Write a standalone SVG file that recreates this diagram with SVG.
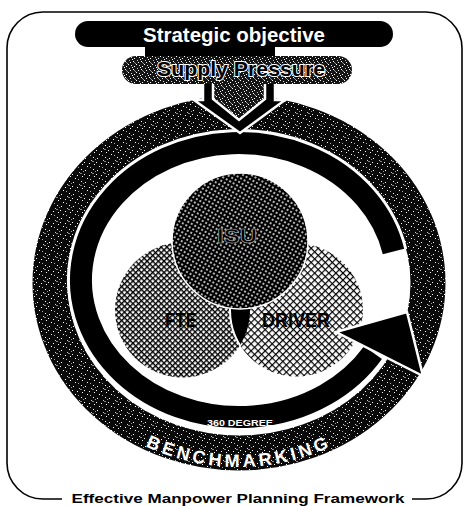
<svg xmlns="http://www.w3.org/2000/svg" width="466" height="506" viewBox="0 0 466 506">
<style>
  .t { font-family: "Liberation Sans", Arial, sans-serif; font-weight: bold; }
  .frame { fill: none; stroke: #000; stroke-width: 1.6; }
  .circ-text { fill: #000; font-size: 21px; text-anchor: middle; }
</style>
<defs>
  <pattern id="speck" width="12" height="12" patternUnits="userSpaceOnUse">
    <rect width="12" height="12" fill="#0a0a0a"/>
    <rect x="1" y="2" width="1" height="1" fill="#fff"/>
    <rect x="5" y="7" width="1" height="1" fill="#fff"/>
    <rect x="9" y="1" width="1" height="1" fill="#fff"/>
    <rect x="3" y="10" width="1" height="1" fill="#fff"/>
    <rect x="10" y="8" width="1" height="1" fill="#fff"/>
    <rect x="7" y="4" width="1" height="1" fill="#ccc"/>
    <rect x="0" y="6" width="1" height="1" fill="#fff"/>
    <rect x="6" y="11" width="1" height="1" fill="#aaa"/>
    <rect x="8" y="5" width="2" height="1" fill="#888"/>
    <rect x="11" y="3" width="1" height="1" fill="#999"/>
  </pattern>
  <pattern id="speck2" width="8" height="8" patternUnits="userSpaceOnUse">
    <rect width="8" height="8" fill="#151515"/>
    <rect x="0" y="0" width="1" height="1" fill="#fff"/>
    <rect x="3" y="1" width="1" height="1" fill="#ddd"/>
    <rect x="6" y="2" width="1" height="1" fill="#fff"/>
    <rect x="1" y="4" width="1" height="1" fill="#bbb"/>
    <rect x="5" y="5" width="1" height="1" fill="#fff"/>
    <rect x="2" y="6" width="1" height="1" fill="#eee"/>
    <rect x="7" y="7" width="1" height="1" fill="#999"/>
    <rect x="4" y="3" width="1" height="1" fill="#fff"/>
    <rect x="6" y="6" width="1" height="1" fill="#888"/>
  </pattern>
  <pattern id="dots" width="4" height="4" patternUnits="userSpaceOnUse" patternTransform="rotate(30)">
    <rect width="4" height="4" fill="#000"/>
    <circle cx="2" cy="2" r="0.95" fill="#fff"/>
  </pattern>
  <pattern id="hatchA" width="4" height="4" patternUnits="userSpaceOnUse" patternTransform="rotate(45)">
    <rect width="4" height="4" fill="#fff"/>
    <rect width="4" height="1.4" fill="#000"/>
    <rect width="1.4" height="4" fill="#000"/>
  </pattern>
  <pattern id="hatchB" width="5" height="5" patternUnits="userSpaceOnUse" patternTransform="rotate(45)">
    <rect width="5" height="5" fill="#fff"/>
    <rect width="5" height="1.2" fill="#000"/>
    <rect width="1.2" height="5" fill="#000"/>
  </pattern>
  <clipPath id="fteClip"><circle cx="182.5" cy="310" r="67.5"/></clipPath>
  <path id="benchPath" d="M 37 283 A 202 184 0 0 0 441 283"/>
</defs>

<rect width="466" height="506" fill="#fff"/>

<g id="frame">
  <rect class="frame" x="7" y="12" width="455" height="487" rx="36"/>
  <rect x="62" y="493" width="350" height="13" fill="#fff"/>
  <text class="t" x="238" y="503" font-size="13.5" text-anchor="middle" textLength="333" lengthAdjust="spacingAndGlyphs">Effective  Manpower  Planning  Framework</text>
</g>

<g id="benchmarking">
  <ellipse cx="239" cy="283" rx="189" ry="170" fill="none" stroke="url(#speck)" stroke-width="35"/>
  <text class="t" font-size="18" fill="#fff" letter-spacing="3.6">
    <textPath href="#benchPath" startOffset="50%" text-anchor="middle">BENCHMARKING</textPath>
  </text>
</g>

<g id="connectors">
  <path d="M 393.5 251.5 A 158 137 0 1 0 373 352.6" fill="none" stroke="#fff" stroke-width="28"/>
  <path d="M 393.5 251.5 A 158 137 0 1 0 373 352.6" fill="none" stroke="#000" stroke-width="22"/>
  <text class="t" x="240" y="426" font-size="9" fill="#fff" text-anchor="middle" textLength="66" lengthAdjust="spacingAndGlyphs">360 DEGREE</text>
</g>

<g id="fte">
  <circle cx="182.5" cy="310" r="67.5" fill="url(#hatchA)"/>
  <text class="t circ-text" x="181" y="327" font-size="20" textLength="32" lengthAdjust="spacingAndGlyphs">FTE</text>
</g>
<g id="driver">
  <circle cx="296.5" cy="310" r="66.5" fill="url(#hatchB)"/>
  <text class="t circ-text" x="296" y="327" textLength="68" lengthAdjust="spacingAndGlyphs">DRIVER</text>
</g>
<g id="overlap">
  <circle cx="296.5" cy="310" r="66.5" clip-path="url(#fteClip)" fill="#000" stroke="#fff" stroke-width="2"/>
</g>
<g id="isu">
  <circle cx="240" cy="241" r="68" fill="url(#dots)" stroke="#fff" stroke-width="1.5"/>
  <text class="t circ-text" x="237" y="243" font-size="20" stroke="#aaa" stroke-width="0.7" textLength="40" lengthAdjust="spacingAndGlyphs">ISU</text>
</g>

<g id="arrowhead">
  <polygon points="336,332 407,312 423,376" fill="#000" stroke="#fff" stroke-width="2.5" stroke-linejoin="miter"/>
</g>

<g id="down-arrow">
  <polygon points="213,82 265,82 265,99 239,120 213,99" fill="url(#speck2)"/>
  <path d="M203 82 H213 V99 L239 120 L265 99 V82 H275 V100 H285 L240 133 L194 100 H203 Z" fill="#000" stroke="#fff" stroke-width="2.5"/>
</g>

<g id="strategic">
  <rect x="145" y="40" width="130" height="20" fill="#000"/>
  <rect x="75" y="21" width="318" height="26" rx="13" fill="#000"/>
  <text class="t" x="234" y="42" font-size="20" fill="#fff" text-anchor="middle" textLength="182" lengthAdjust="spacingAndGlyphs">Strategic objective</text>
</g>

<g id="supply">
  <rect x="122" y="56" width="230" height="28" rx="14" fill="url(#speck2)"/>
  <text class="t" x="241" y="76" font-size="21" fill="#000" stroke="#fff" stroke-width="2" paint-order="stroke" text-anchor="middle" textLength="168" lengthAdjust="spacingAndGlyphs">Supply Pressure</text>
</g>
</svg>
